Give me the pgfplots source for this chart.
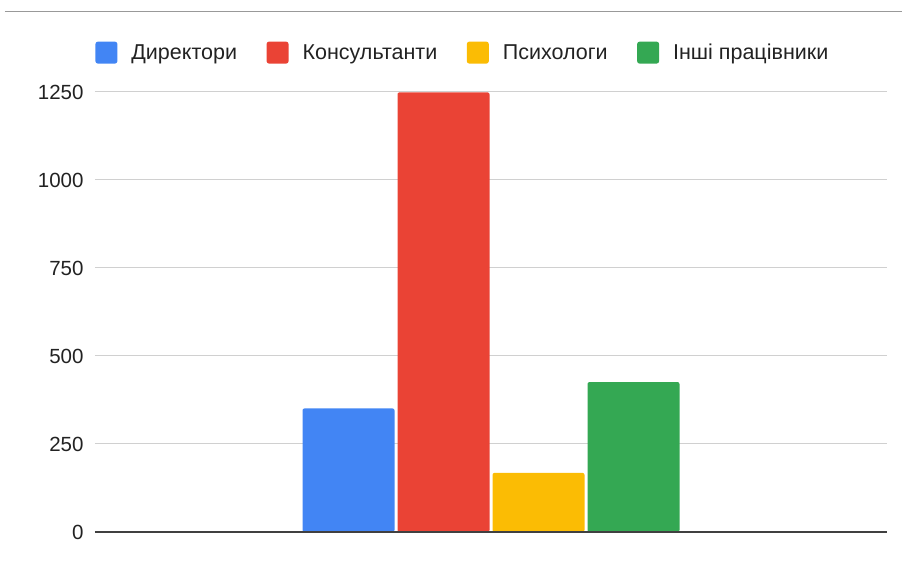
\documentclass[border=0pt]{standalone}
\usepackage{pgfplots}
\pgfplotsset{compat=1.18}
\usepackage{fontspec}
\setmainfont{Liberation Sans}
\definecolor{cblue}{HTML}{4285F4}
\definecolor{cred}{HTML}{EA4335}
\definecolor{cyellow}{HTML}{FBBC04}
\definecolor{cgreen}{HTML}{34A853}
\definecolor{gridc}{HTML}{D0D0D0}
\definecolor{txt}{HTML}{222222}
\begin{document}
\begin{tikzpicture}
\useasboundingbox (-95pt,-29pt) rectangle (807pt,532pt);
\draw[color=black!40, line width=1pt] (-90pt,520pt) -- (807pt,520pt);
\begin{axis}[
  at={(0pt,0pt)}, anchor=south west,
  scale only axis, width=792pt, height=440pt,
  ybar=3pt, bar width=92pt,
  xmin=-1, xmax=1, ymin=0, ymax=1250,
  xtick=\empty,
  ytick={0,250,500,750,1000,1250},
  ymajorgrids, grid style={gridc, line width=1pt},
  axis line style={draw=none},
  major tick length=0pt,
  /pgf/number format/assume math mode=true,
  /pgf/number format/1000 sep={},
  yticklabel style={font=\fontsize{20.5}{24}\selectfont, text=txt, xshift=-8pt},
  clip=false,
  legend columns=4,
  legend style={at={(0.4645,1.0895)}, anchor=center, draw=none, fill=none,
    font=\fontsize{21.5}{24}\selectfont, text=txt,
    /tikz/every odd column/.append style={column sep=12pt},
    /tikz/every even column/.append style={column sep=27.5pt}},
  legend image code/.code={\fill[#1, rounded corners=2.5pt] (0pt,-11pt) rectangle (22pt,11pt);},
]
\addplot[fill=cblue, draw=none, rounded corners=2pt] coordinates {(0,351)};
\addplot[fill=cred, draw=none, rounded corners=2pt] coordinates {(0,1249)};
\addplot[fill=cyellow, draw=none, rounded corners=2pt] coordinates {(0,168)};
\addplot[fill=cgreen, draw=none, rounded corners=2pt] coordinates {(0,426)};
\legend{Директори, Консультанти, Психологи, Інші працівники}
\draw[color=black!75, line width=1.6pt] (rel axis cs:0,0) -- (rel axis cs:1,0);
\end{axis}
\end{tikzpicture}
\end{document}
